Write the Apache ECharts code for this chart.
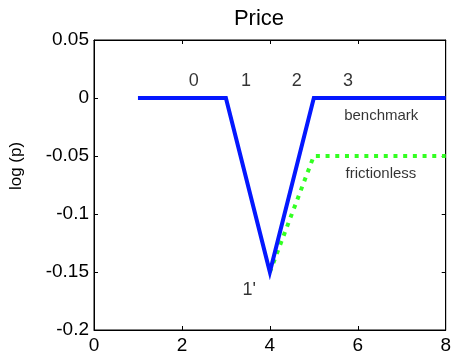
<!DOCTYPE html>
<html>
<head>
<meta charset="utf-8">
<script src="https://cdn.jsdelivr.net/npm/echarts@6/dist/echarts.min.js"></script>
<style>html,body{margin:0;padding:0;background:#fff}#c{width:454px;height:355px}</style>
</head>
<body>
<div id="c"></div>
<script>
var benchmarkX = [1, 3, 4, 5, 8];
var benchmarkY = [0, 0, -0.15, 0, 0];
var frictionlessX = [4, 5, 8];
var frictionlessY = [-0.15, -0.05, -0.05];
var stateLabels = ['0', '1', '2', '3', "1'"];
var stateX = [2.27, 3.46, 4.61, 5.78, 3.53];
var stateY = [0.0149, 0.0149, 0.0149, 0.0149, -0.1655];
var seriesLabels = ['benchmark', 'frictionless'];
var seriesLabelX = [5.69, 5.72];
var seriesLabelY = [-0.0155, -0.065];
var xTicks = [0, 2, 4, 6, 8];
var yTicks = [0.05, 0, -0.05, -0.1, -0.15, -0.2];

function pairs(xs, ys) { return xs.map(function (x, i) { return [x, ys[i]]; }); }
var FONT = 'Liberation Sans';
var chart = echarts.init(document.getElementById('c'), null, { renderer: 'canvas' });
function axisCommon() {
  return {
    type: 'value', splitLine: { show: false },
    axisLine: { show: true, onZero: false, lineStyle: { color: '#000', width: 1 } },
    axisTick: { show: true, inside: true, length: 4, lineStyle: { color: '#000' } }
  };
}
chart.setOption({
  animation: false,
  title: { text: 'Price', left: 254, top: 3, textAlign: 'center',
    textStyle: { fontFamily: FONT, fontSize: 22, fontWeight: 'normal', color: '#000' } },
  grid: { left: 93, top: 40, right: 5, bottom: 25, containLabel: false,
    show: true, borderColor: '#000', borderWidth: 1, backgroundColor: 'transparent' },
  xAxis: [
    Object.assign(axisCommon(), { min: xTicks[0], max: xTicks[xTicks.length - 1], interval: 2, position: 'bottom',
      axisLabel: { fontFamily: FONT, fontSize: 19, color: '#000', margin: 6 } }),
    Object.assign(axisCommon(), { min: xTicks[0], max: xTicks[xTicks.length - 1], interval: 2, position: 'top',
      axisLabel: { show: false } })
  ],
  yAxis: [
    Object.assign(axisCommon(), { min: yTicks[yTicks.length - 1], max: yTicks[0], interval: 0.05, position: 'left',
      name: 'log (p)', nameLocation: 'middle', nameGap: 69, nameRotate: 90,
      nameTextStyle: { fontFamily: FONT, fontSize: 17, color: '#000', padding: [0, 0, 0, 38] },
      axisLabel: { fontFamily: FONT, fontSize: 19, color: '#000', margin: 5,
        formatter: function (v) { return String(Math.round(v * 100) / 100); } } }),
    Object.assign(axisCommon(), { min: yTicks[yTicks.length - 1], max: yTicks[0], interval: 0.05, position: 'right',
      axisLabel: { show: false } })
  ],
  series: [
    { type: 'line', name: 'frictionless', data: pairs(frictionlessX, frictionlessY), symbol: 'none',
      lineStyle: { color: '#33ff22', width: 4, type: [4, 5.7], cap: 'butt' }, z: 2 },
    { type: 'line', name: 'benchmark', data: pairs(benchmarkX, benchmarkY), symbol: 'none',
      lineStyle: { color: '#0418ff', width: 4, join: 'miter' }, z: 3 },
    { type: 'line', xAxisIndex: 1, yAxisIndex: 1, data: [], symbol: 'none', silent: true },
    { type: 'scatter', symbolSize: 0, silent: true, z: 5,
      data: stateLabels.map(function (t, i) { return { name: t, value: [stateX[i], stateY[i]] }; }),
      label: { show: true, position: 'inside', formatter: '{b}', fontFamily: FONT, fontSize: 18, color: '#000' } },
    { type: 'scatter', symbolSize: 0, silent: true, z: 5,
      data: seriesLabels.map(function (t, i) { return { name: t, value: [seriesLabelX[i], seriesLabelY[i]] }; }),
      label: { show: true, position: 'right', distance: 0, formatter: '{b}', fontFamily: FONT, fontSize: 15, color: '#000' } }
  ]
});
</script>
</body>
</html>
